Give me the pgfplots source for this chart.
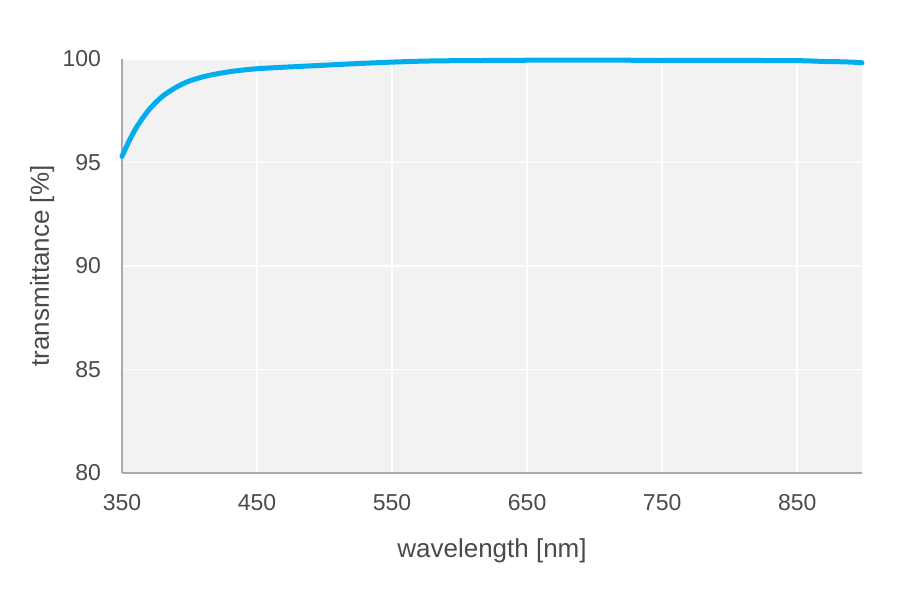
\documentclass[border=0pt]{standalone}
\usepackage{fontspec}
\setmainfont{Liberation Sans}
\usepackage{pgfplots}
\pgfplotsset{compat=1.18}
\definecolor{bgc}{HTML}{F2F2F2}
\definecolor{axc}{HTML}{AAAAAA}
\definecolor{txt}{HTML}{4A4A4A}
\definecolor{curve}{HTML}{00AEEF}
\begin{document}
\begin{tikzpicture}[x=1pt,y=1pt]
\useasboundingbox (0,0) rectangle (450,297.5);
\begin{axis}[
  at={(61pt,61pt)}, anchor=south west,
  scale only axis, width=370pt, height=207pt,
  xmin=350, xmax=898, ymin=80, ymax=100,
  xtick={350,450,...,850}, ytick={80,85,...,100},
  axis background/.style={fill=bgc},
  grid=major, major grid style={white, line width=0.8pt},
  axis lines=left, axis line style={-, draw=axc, line width=0.6pt},
  major tick length=0pt,
  /pgf/number format/assume math mode=true,
  tick label style={font=\fontsize{11.5}{13}\selectfont, text=txt},
  yticklabel style={xshift=-7pt},
  xticklabel style={yshift=-7pt},
  xlabel={wavelength [nm]}, ylabel={transmittance [\%]},
  label style={font=\fontsize{13}{15}\selectfont, text=txt},
  xlabel style={at={(axis description cs:0.5,-0.188)}, anchor=center},
  ylabel style={at={(axis description cs:-0.108,0.5)}, anchor=center, rotate=0},
  clip=false,
]
\addplot[curve, line width=2.5pt, line join=round, line cap=round, smooth] coordinates {
(350,95.3) (355,96.0) (360,96.62) (365,97.12) (370,97.55) (375,97.9)
(380,98.2) (385,98.43) (390,98.63) (395,98.8) (400,98.94) (410,99.14)
(420,99.28) (430,99.39) (440,99.47) (450,99.53) (460,99.57) (475,99.62) (500,99.7)
(525,99.78) (550,99.85) (575,99.9) (600,99.92) (650,99.94) (700,99.95)
(750,99.93) (800,99.93) (850,99.92) (870,99.88) (880,99.87) (890,99.85) (898,99.82)
};
\end{axis}
\end{tikzpicture}
\end{document}
